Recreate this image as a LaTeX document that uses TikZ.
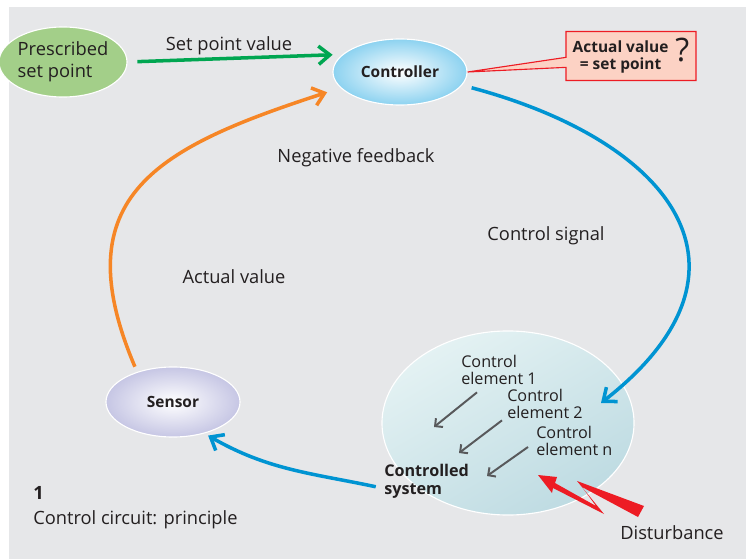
\documentclass[tikz,border=0pt]{standalone}
\usepackage{fontspec}
\setmainfont{Open Sans}
\usetikzlibrary{arrows.meta, shapes, positioning}
\definecolor{bggray}{RGB}{230,231,233}
\definecolor{leafgreen}{RGB}{163,207,137}
\definecolor{arrowgreen}{RGB}{0,166,81}
\definecolor{flowblue}{RGB}{0,148,210}
\definecolor{floworange}{RGB}{246,134,38}
\definecolor{alertred}{RGB}{237,28,36}
\definecolor{salmon}{RGB}{252,210,196}
\definecolor{ctrlblue}{RGB}{140,210,240}
\definecolor{lavender}{RGB}{198,198,228}
\definecolor{syslight}{RGB}{228,242,243}
\definecolor{sysdark}{RGB}{190,219,226}
\definecolor{elemgray}{RGB}{88,89,91}
\definecolor{ink}{RGB}{35,31,32}

\begin{document}
\begin{tikzpicture}[x=0.025cm, y=-0.025cm, text=ink,
                    blob/.style= {ellipse,
                      draw=white,
                      line width=0.8pt,
                      inner sep=0pt,
                      font=\fontsize{11}{13}\selectfont\bfseries},
                    flow/.style= {line width=2.5pt,
                      -{Straight Barb[length=8pt,width=13pt]}},
                    element/.style= {draw=elemgray,
                      line width=1.4pt,
                      -{Straight Barb[length=4pt,width=8pt]}},
                    tag/.style= {inner sep=0pt,
                      align=left,
                      font=\fontsize{13}{15}\selectfont},
                    small tag/.style= {tag,
                      anchor=west,
                      font=\fontsize{11.5}{12.6}\selectfont}]

  \useasboundingbox (0,0) rectangle (746,559);
  \fill[bggray] (9,7) rectangle (746,559);

  % circuit
  \node[blob, fill=leafgreen, minimum width=3.15cm, minimum height=1.75cm,
        align=left, font=\fontsize{13}{15.5}\selectfont] (1) at (63,62) {Prescribed\\set point};
  \node[blob, inner color=white, outer color=ctrlblue,
        minimum width=3.35cm, minimum height=1.65cm] (2) at (400,72) {Controller};
  \node[blob, top color=syslight, bottom color=sysdark, shading angle=30,
        minimum width=6.3cm, minimum height=4.6cm] (3) at (508,423) {};
  \node[blob, inner color=white, outer color=lavender,
        minimum width=3.35cm, minimum height=1.75cm] (4) at (173,402) {Sensor};
  \node[rectangle callout, draw=alertred, fill=salmon, line width=0.8pt,
        callout absolute pointer={(2.east)}, minimum width=3.25cm, minimum height=1.225cm,
        inner sep=1pt] (5) at (631,56)
        {\fontsize{11}{12}\selectfont\bfseries\begin{tabular}{@{}c@{}}Actual value\\= set point\end{tabular}\hspace{5pt}{\fontsize{23}{23}\selectfont\mdseries ?}};

  % labels
  \node[tag] (6) at (229,46) {Set point value};
  \node[tag] (7) at (356,158) {Negative feedback};
  \node[tag] (8) at (546,236) {Control signal};
  \node[tag] (9) at (234,277) {Actual value};
  \node[small tag, font=\fontsize{11.5}{12.6}\selectfont\bfseries] (10) at (384,481) {Controlled\\system};
  \node[small tag] (11) at (461,370) {Control\\element 1};
  \node[small tag] (12) at (507,404) {Control\\element 2};
  \node[small tag] (13) at (536,441) {Control\\element n};
  \node[tag] (14) at (672,533) {Disturbance};
  \node[tag, anchor=west, font=\fontsize{13}{15}\selectfont\bfseries] (15) at (33,493) {1};
  \node[tag, anchor=west] (16) at (33,520) {Control circuit: principle};

  \coordinate (17) at (601,403);
  \coordinate (18) at (434,427);
  \coordinate (19) at (459,453);
  \coordinate (20) at (487,476);

  \path[flow]
    (1.east) edge[draw=arrowgreen, shorten <=7pt, shorten >=7pt] (2.163)
    (2.-12)  edge[draw=flowblue, shorten <=7pt, out=-15, in=38, looseness=1.6] (17)
    (10.-170) edge[draw=flowblue, shorten <=6pt, shorten >=3pt, out=168, in=-30] (4.-45)
    (4.140)  edge[draw=floworange, shorten <=4pt, shorten >=10pt, out=113, in=198, looseness=1.4] (2.195);

  \draw[element] ([shift={(16,7)}]11.south west) -- (18);
  \draw[element] ([shift={(-5,1)}]12.south west) -- (19);
  \draw[element] ([shift={(-8,6)}]13.west) -- (20);

  % disturbance bolt
  \fill[alertred] (644,506) -- (577,481) -- (604,514) -- (553,488) -- (552,493)
    -- (538,475) -- (557,477) -- (555,483) -- (596,506) -- (582,487) -- (638,517) -- cycle;
\end{tikzpicture}
\end{document}
